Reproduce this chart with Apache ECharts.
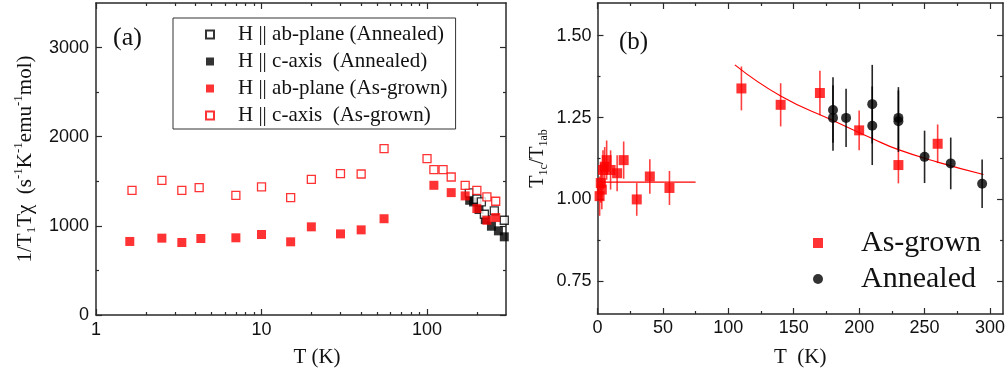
<!DOCTYPE html>
<html><head><meta charset="utf-8">
<script src="https://cdn.jsdelivr.net/npm/echarts@6/dist/echarts.min.js"></script>
<style>html,body{margin:0;padding:0;background:#fff}#c{width:1008px;height:375px}</style>
</head><body><div id="c"></div>
<script>
// ---------- Panel (a): 1/T1Tchi vs T (log) ----------
const aAbGrownT = [1.6, 2.5, 3.3, 4.3, 7, 10, 15, 20, 30, 40, 55, 110, 140, 170, 200, 230, 260];
const aAbGrownY = [825, 862, 813, 858, 866, 903, 821, 989, 910, 955, 1080, 1455, 1373, 1336, 1194, 1063, 1093];
const aCGrownT = [1.65, 2.5, 3.3, 4.2, 7, 10, 15, 20, 30, 40, 55, 100, 110, 125, 140, 170, 200, 230, 260];
const aCGrownY = [1399, 1511, 1399, 1429, 1343, 1437, 1317, 1522, 1586, 1582, 1866, 1754, 1631, 1631, 1548, 1455, 1399, 1324, 1276];
const aAbAnnT = [180, 200, 213, 222, 255, 293];
const aAbAnnY = [1370, 1300, 1268, 1130, 1168, 1063];
const aCAnnT = [181, 191, 206, 225, 245, 270, 293];
const aCAnnY = [1287, 1268, 1183, 1070, 996, 944, 877];
const aNames = ['H || ab-plane (Annealed)', 'H || c-axis  (Annealed)', 'H || ab-plane (As-grown)', 'H || c-axis  (As-grown)'];

// ---------- Panel (b): T1c/T1ab vs T ----------
const bGrownT = [1.6, 2.5, 3.3, 4.2, 5.5, 7, 10, 15, 20, 30, 40, 55, 110, 140, 170, 200, 230, 260];
const bGrownY = [1.01, 1.05, 1.03, 1.09, 1.10, 1.12, 1.09, 1.08, 1.12, 1.00, 1.07, 1.035, 1.339, 1.289, 1.325, 1.211, 1.105, 1.170];
const bGrownErr = [0.06, 0.06, 0.06, 0.06, 0.06, 0.06, 0.06, 0.055, 0.057, 0.05, 0.053, 0.052, 0.067, 0.066, 0.068, 0.061, 0.056, 0.059];
const bAnnT = [180, 180, 190, 210, 210, 230, 230, 250, 270, 294];
const bAnnY = [1.273, 1.249, 1.249, 1.291, 1.225, 1.249, 1.239, 1.130, 1.110, 1.048];
const bAnnErr = [0.10, 0.10, 0.089, 0.12, 0.12, 0.094, 0.094, 0.08, 0.079, 0.074];
const bFitT = [105, 140, 180, 210, 230, 260, 295];
const bFitY = [1.411, 1.316, 1.241, 1.186, 1.152, 1.114, 1.076];
const bFlatT = [0, 75];
const bFlatY = [1.053, 1.053];
const bNames = ['As-grown', 'Annealed'];

// ---------- tick values ----------
const aXTicks = [1, 10, 100];
const aXMinor = [2, 3, 4, 5, 6, 7, 8, 9, 20, 30, 40, 50, 60, 70, 80, 90, 200];
const aYTicks = [0, 1000, 2000, 3000];
const aYMinor = [500, 1500, 2500];
const bXTicks = [0, 50, 100, 150, 200, 250, 300];
const bXMinor = [25, 75, 125, 175, 225, 275];
const bYTicks = [0.75, 1.00, 1.25, 1.50];
const bYMinor = [0.875, 1.125, 1.375];

const SANS = 'Liberation Sans', SERIF = 'Liberation Serif';
const AXC = '#2a2a2a', TXT = '#111';
const SQ = 'path://M0,0L10,0L10,10L0,10Z';

function zip(a, b) { return a.map((v, i) => [v, b[i]]); }
function errData(t, y, e) { return t.map((v, i) => [v, y[i] - e[i], y[i] + e[i]]); }

function axis(gi, pos, type, min, max, ticks, len, showLine, labels, extra) {
  const a = {
    gridIndex: gi, type: type, min: min, max: max, position: pos,
    axisLine: {show: showLine, onZero: false, lineStyle: {color: AXC, width: 1.5}},
    axisTick: {show: true, inside: true, length: len, customValues: ticks, lineStyle: {color: AXC, width: 1.2}},
    axisLabel: labels ? Object.assign({show: true, customValues: ticks, fontFamily: SANS, fontSize: 18, color: TXT,
                                       formatter: v => String(v)}, labels) : {show: false},
    splitLine: {show: false}, minorTick: {show: false}, minorSplitLine: {show: false}
  };
  if (type === 'log') a.logBase = 10;
  return Object.assign(a, extra || {});
}

function errRender(color) {
  return function (params, api) {
    const x = api.value(0), lo = api.value(1), hi = api.value(2);
    const p1 = api.coord([x, lo]), p2 = api.coord([x, hi]);
    return {type: 'line', shape: {x1: p1[0], y1: p1[1], x2: p2[0], y2: p2[1]}, style: {stroke: color, lineWidth: 1.6}};
  };
}

const richA = {
  n: {fontFamily: SERIF, fontSize: 21, color: TXT, lineHeight: 26, verticalAlign: 'middle'},
  sb: {fontFamily: SERIF, fontSize: 13, color: TXT, lineHeight: 14, verticalAlign: 'bottom'},
  sp: {fontFamily: SERIF, fontSize: 13, color: TXT, lineHeight: 14, verticalAlign: 'top'}
};

const option = {
  animation: false,
  backgroundColor: '#fff',
  grid: [
    {left: 96, top: 3, width: 410, height: 312, containLabel: false},
    {left: 597.5, top: 3, width: 407.5, height: 311, containLabel: false}
  ],
  xAxis: [
    axis(0, 'bottom', 'log', 1, 300, aXTicks, 6, true, {margin: 6},
      {name: 'T (K)', nameLocation: 'middle', nameGap: 32,
       nameTextStyle: {fontFamily: SERIF, fontSize: 21, color: TXT, lineHeight: 21, padding: [0, 0, 0, 32]}}),
    axis(0, 'bottom', 'log', 1, 300, aXMinor, 3, false, null),
    axis(0, 'top', 'log', 1, 300, aXTicks, 6, true, null),
    axis(0, 'top', 'log', 1, 300, aXMinor, 3, false, null),
    axis(1, 'bottom', 'value', 0, 310, bXTicks, 6, true, {margin: 5},
      {name: 'T  (K)', nameLocation: 'middle', nameGap: 33,
       nameTextStyle: {fontFamily: SERIF, fontSize: 21, color: TXT, lineHeight: 21}}),
    axis(1, 'bottom', 'value', 0, 310, bXMinor, 3, false, null),
    axis(1, 'top', 'value', 0, 310, bXTicks, 6, true, null),
    axis(1, 'top', 'value', 0, 310, bXMinor, 3, false, null)
  ],
  yAxis: [
    axis(0, 'left', 'value', 0, 3500, aYTicks, 6, true, {margin: 7},
      {name: '{n|1/T}{sb|1}{n|T\u03c7  (s}{sp|-1}{n|K}{sp|-1}{n|emu}{sp|-1}{n|mol)}',
       nameLocation: 'middle', nameRotate: 90, nameGap: 58,
       nameTextStyle: {fontFamily: SERIF, fontSize: 21, color: TXT, rich: richA}}),
    axis(0, 'left', 'value', 0, 3500, aYMinor, 3, false, null),
    axis(0, 'right', 'value', 0, 3500, aYTicks, 6, true, null),
    axis(0, 'right', 'value', 0, 3500, aYMinor, 3, false, null),
    axis(1, 'left', 'value', 0.65, 1.6, bYTicks, 6, true, {margin: 6, formatter: v => Number(v).toFixed(2)},
      {name: '{n|T}{sb|1c}{n|/T}{sb|1ab}', nameLocation: 'middle', nameRotate: 90, nameGap: 48,
       nameTextStyle: {fontFamily: SERIF, fontSize: 20, color: TXT, rich: {
         n: {fontFamily: SERIF, fontSize: 20, color: TXT, lineHeight: 24, verticalAlign: 'middle'},
         sb: {fontFamily: SERIF, fontSize: 12, color: TXT, lineHeight: 13, verticalAlign: 'bottom'}
       }}}),
    axis(1, 'left', 'value', 0.65, 1.6, bYMinor, 3, false, null),
    axis(1, 'right', 'value', 0.65, 1.6, bYTicks, 6, true, null),
    axis(1, 'right', 'value', 0.65, 1.6, bYMinor, 3, false, null)
  ],
  legend: [
    {
      data: aNames.map(n => ({name: n, icon: SQ})), orient: 'vertical', left: 173, top: 18,
      padding: [6, 8, 3, 32], itemWidth: 46, itemHeight: 8, itemGap: 6,
      borderColor: '#333', borderWidth: 1, backgroundColor: '#fff',
      selectedMode: false, symbolKeepAspect: true,
      textStyle: {fontFamily: SERIF, fontSize: 21, color: TXT, lineHeight: 21}
    },
    {
      data: [{name: bNames[0], icon: SQ}, {name: bNames[1], icon: 'circle'}],
      orient: 'vertical', left: 813, top: 228,
      padding: 0, itemWidth: 76, itemHeight: 10, itemGap: 6, selectedMode: false, symbolKeepAspect: true,
      textStyle: {fontFamily: SERIF, fontSize: 30, color: TXT, lineHeight: 30}
    }
  ],
  graphic: [
    {type: 'text', left: 113, top: 25, style: {text: '(a)', fontFamily: SERIF, fontSize: 26, fill: TXT}},
    {type: 'text', left: 619, top: 30, style: {text: '(b)', fontFamily: SERIF, fontSize: 25, fill: TXT}}
  ],
  series: [
    // panel (a)
    {name: aNames[1], type: 'scatter', xAxisIndex: 0, yAxisIndex: 0, data: zip(aCAnnT, aCAnnY),
     symbol: 'rect', symbolSize: 9, itemStyle: {color: '#000'}, z: 2},
    {name: aNames[0], type: 'scatter', xAxisIndex: 0, yAxisIndex: 0, data: zip(aAbAnnT, aAbAnnY),
     symbol: 'rect', symbolSize: 8, itemStyle: {color: '#fff', borderColor: '#000', borderWidth: 1.3}, z: 3},
    {name: aNames[2], type: 'scatter', xAxisIndex: 0, yAxisIndex: 0, data: zip(aAbGrownT, aAbGrownY),
     symbol: 'rect', symbolSize: 9, itemStyle: {color: '#ff0000'}, z: 4},
    {name: aNames[3], type: 'scatter', xAxisIndex: 0, yAxisIndex: 0, data: zip(aCGrownT, aCGrownY),
     symbol: 'rect', symbolSize: 8, itemStyle: {color: '#fff', borderColor: '#ff0000', borderWidth: 1.3}, z: 5},
    // panel (b)
    {name: 'fitFlat', type: 'line', xAxisIndex: 4, yAxisIndex: 4, data: zip(bFlatT, bFlatY),
     showSymbol: false, symbol: 'none', lineStyle: {color: '#ff0000', width: 1.2}, z: 1, silent: true},
    {name: 'fitCurve', type: 'line', xAxisIndex: 4, yAxisIndex: 4, data: zip(bFitT, bFitY), smooth: 0.5,
     showSymbol: false, symbol: 'none', lineStyle: {color: '#ff0000', width: 1.2}, z: 1, silent: true},
    {name: 'errGrown', type: 'custom', xAxisIndex: 4, yAxisIndex: 4, data: errData(bGrownT, bGrownY, bGrownErr),
     encode: {x: 0, y: [1, 2]}, renderItem: errRender('rgba(255,0,0,0.75)'), z: 2, silent: true},
    {name: 'errAnn', type: 'custom', xAxisIndex: 4, yAxisIndex: 4, data: errData(bAnnT, bAnnY, bAnnErr),
     encode: {x: 0, y: [1, 2]}, renderItem: errRender('rgba(0,0,0,0.85)'), z: 2, silent: true},
    {name: 'As-grown', type: 'scatter', xAxisIndex: 4, yAxisIndex: 4, data: zip(bGrownT, bGrownY),
     symbol: 'rect', symbolSize: 10, itemStyle: {color: '#ff0000'}, z: 4},
    {name: 'Annealed', type: 'scatter', xAxisIndex: 4, yAxisIndex: 4, data: zip(bAnnT, bAnnY),
     symbol: 'circle', symbolSize: 10, itemStyle: {color: '#000'}, z: 4}
  ]
};

const chart = echarts.init(document.getElementById('c'), null, {renderer: 'canvas'});
chart.setOption(option);
</script>
</body></html>
